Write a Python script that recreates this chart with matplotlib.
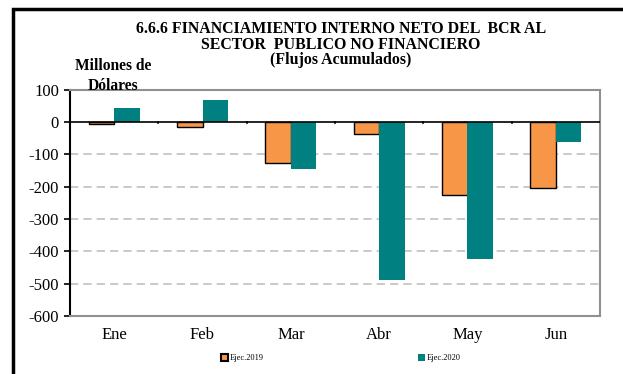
import numpy as np
import matplotlib.pyplot as plt
from matplotlib.patches import Rectangle, Patch

plt.rcParams['font.family'] = ['Liberation Serif', 'DejaVu Serif']

meses = ['Ene', 'Feb', 'Mar', 'Abr', 'May', 'Jun']
ejec_2019 = [-7, -16, -128, -38, -226, -205]
ejec_2020 = [42, 68, -145, -488, -424, -62]
y_ticks = [100, 0, -100, -200, -300, -400, -500, -600]

naranja = '#F79646'
verde = '#008080'

W, H = 623, 374
fig = plt.figure(figsize=(W / 100, H / 100), dpi=100)

# marco exterior (sale por la derecha y por abajo)
fig.patches.append(Rectangle((13 / W, -0.05), 1.0, 1.05 - 9 / H,
                             transform=fig.transFigure, fill=False,
                             edgecolor='black', linewidth=2.5))

ax = fig.add_axes([70 / W, (H - 316) / H, 530 / W, (316 - 89.5) / H])

x = np.arange(len(meses))
w = 0.29
ax.bar(x - w / 2, ejec_2019, w, color=naranja, edgecolor='black',
       linewidth=1.0, zorder=3)
ax.bar(x + w / 2, ejec_2020, w, color=verde, edgecolor='none', zorder=3)

ax.set_xlim(-0.5, len(meses) - 0.5)
ax.set_ylim(-600, 100)
ax.set_yticks(y_ticks)
ax.set_yticklabels([str(v) for v in y_ticks], fontsize=12)

for v in y_ticks[2:-1]:
    ax.axhline(v, color='#C0C0C0', linestyle=(0, (5, 3)), linewidth=1.2, zorder=1)
ax.axhline(0, color='black', linewidth=1.2, zorder=4)

# marcas de categoria sobre la linea de cero
for b in np.arange(0.5, len(meses) - 0.5, 1):
    ax.plot([b, b], [0, -5], color='black', linewidth=1.2, zorder=4)

ax.set_xticks(x)
ax.set_xticklabels(meses, fontsize=12)
ax.tick_params(axis='x', length=0, pad=8)
ax.tick_params(axis='y', direction='out', length=4, width=1.2, pad=4)

for s in ['top', 'right', 'bottom']:
    ax.spines[s].set_color('#909090')
    ax.spines[s].set_linewidth(1.5)
ax.spines['left'].set_color('black')
ax.spines['left'].set_linewidth(1.5)

cx = 341 / W
fig.text(cx, 1 - 29 / H, '6.6.6 FINANCIAMIENTO INTERNO NETO DEL  BCR AL',
         ha='center', va='center', fontsize=11.4, fontweight='bold')
fig.text(cx, 1 - 45 / H, 'SECTOR  PUBLICO NO FINANCIERO',
         ha='center', va='center', fontsize=11.4, fontweight='bold')
fig.text(cx, 1 - 60 / H, '(Flujos Acumulados)',
         ha='center', va='center', fontsize=11.4, fontweight='bold')
fig.text(113 / W, 1 - 76 / H, 'Millones de\nDólares', ha='center',
         va='center', fontsize=11.2, fontweight='bold', linespacing=1.35)

# leyenda en dos piezas separadas
h19 = Patch(facecolor=naranja, edgecolor='black', linewidth=1.5)
h20 = Patch(facecolor=verde, edgecolor='none')
for h, txt, xpos in [(h19, 'Ejec.2019', 221), (h20, 'Ejec.2020', 418)]:
    fig.legend([h], [txt], loc='center left',
               bbox_to_anchor=(xpos / W, 1 - 358 / H), fontsize=6,
               frameon=False, borderpad=0, borderaxespad=0,
               handlelength=0.8, handleheight=0.9, handletextpad=0.3)

fig.savefig('out.png', dpi=100)
